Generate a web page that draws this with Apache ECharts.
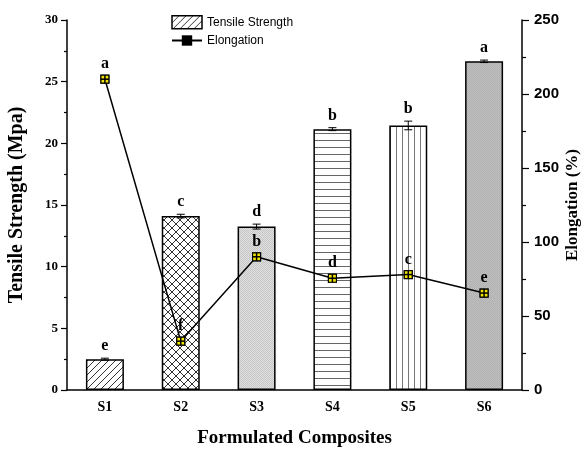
<!DOCTYPE html>
<html><head><meta charset="utf-8">
<script src="https://cdn.jsdelivr.net/npm/echarts@6/dist/echarts.min.js"></script>
<style>html,body{margin:0;padding:0;background:#fff}#c{width:586px;height:451px}</style>
</head><body><div id="c"></div>
<script>
const categories = ['S1', 'S2', 'S3', 'S4', 'S5', 'S6'];
const tensile = [2.5, 14.1, 13.25, 21.15, 21.45, 26.65];
const tensileErr = [0.08, 0.15, 0.2, 0.12, 0.35, 0.1];
const tensileLetters = ['e', 'c', 'd', 'b', 'b', 'a'];
const elongation = [210, 33, 90, 75.5, 78, 65.5];
const elongationErr = [1, 1, 1, 1, 1.5, 1];
const elongationLetters = ['a', 'f', 'b', 'd', 'c', 'e'];
const leftTicks = [0, 5, 10, 15, 20, 25, 30];
const rightTicks = [0, 50, 100, 150, 200, 250];

function tile(w, h, draw) {
  const c = document.createElement('canvas');
  c.width = w; c.height = h;
  const g = c.getContext('2d');
  draw(g, w, h);
  return { image: c, repeat: 'repeat' };
}
const patDiag = tile(7, 7, (g) => {
  g.fillStyle = '#fff'; g.fillRect(0, 0, 7, 7);
  g.strokeStyle = '#333'; g.lineWidth = 1;
  g.beginPath();
  g.moveTo(0, 7); g.lineTo(7, 0);
  g.moveTo(-1, 1); g.lineTo(1, -1);
  g.moveTo(6, 8); g.lineTo(8, 6);
  g.stroke();
});
const patCross = tile(8, 8, (g) => {
  g.fillStyle = '#fff'; g.fillRect(0, 0, 8, 8);
  g.strokeStyle = '#333'; g.lineWidth = 1;
  g.beginPath();
  g.moveTo(0, 8); g.lineTo(8, 0);
  g.moveTo(0, 0); g.lineTo(8, 8);
  g.moveTo(-1, 1); g.lineTo(1, -1);
  g.moveTo(7, 9); g.lineTo(9, 7);
  g.moveTo(-1, 7); g.lineTo(1, 9);
  g.moveTo(7, -1); g.lineTo(9, 1);
  g.stroke();
});
const patDots = tile(2, 2, (g) => {
  g.fillStyle = '#e0e0e0'; g.fillRect(0, 0, 2, 2);
  g.fillStyle = '#c6c6c6'; g.fillRect(0, 0, 1, 1); g.fillRect(1, 1, 1, 1);
});
const patHoriz = tile(4, 7, (g) => {
  g.fillStyle = '#fff'; g.fillRect(0, 0, 4, 7);
  g.fillStyle = '#666'; g.fillRect(0, 0, 4, 1);
});
const patVert = tile(6, 4, (g) => {
  g.fillStyle = '#fff'; g.fillRect(0, 0, 6, 4);
  g.fillStyle = '#777'; g.fillRect(0, 0, 1, 4);
});
const patGray = tile(2, 2, (g) => {
  g.fillStyle = '#c0c0c0'; g.fillRect(0, 0, 2, 2);
  g.fillStyle = '#b0b0b0'; g.fillRect(0, 0, 1, 1); g.fillRect(1, 1, 1, 1);
});
const barFills = [patDiag, patCross, patDots, patHoriz, patVert, patGray];

const serif = 'Liberation Serif';
const sans = 'Liberation Sans';

const chart = echarts.init(document.getElementById('c'));
chart.setOption({
  animation: false,
  backgroundColor: '#fff',
  grid: { left: 67, right: 64, top: 20, bottom: 61, containLabel: false, outerBoundsMode: 'none' },
  legend: {
    orient: 'vertical', left: 166, top: 10, itemWidth: 30, itemHeight: 13, itemGap: 5,
    textStyle: { fontFamily: sans, fontSize: 12, color: '#000' },
    data: [
      { name: 'Tensile Strength', icon: 'rect', itemStyle: { color: patDiag, borderColor: '#000', borderWidth: 1.5 } },
      { name: 'Elongation' }
    ]
  },
  xAxis: [{
    type: 'category', data: categories,
    name: 'Formulated Composites', nameLocation: 'middle', nameGap: 39,
    nameTextStyle: { fontFamily: serif, fontWeight: 'bold', fontSize: 19, color: '#000' },
    axisLine: { lineStyle: { color: '#000', width: 1.5 } },
    axisTick: { alignWithLabel: true, length: 6, lineStyle: { color: '#000', width: 1.2 } },
    axisLabel: { fontFamily: serif, fontWeight: 'bold', fontSize: 14, color: '#000', margin: 10 }
  }, {
    type: 'category', data: categories, position: 'bottom',
    axisLine: { show: false },
    axisTick: { length: 4, lineStyle: { color: '#000', width: 1.2 } },
    axisLabel: { show: false }
  }],
  yAxis: [{
    type: 'value', min: leftTicks[0], max: leftTicks[leftTicks.length - 1], interval: leftTicks[1] - leftTicks[0],
    name: 'Tensile Strength (Mpa)', nameLocation: 'middle', nameGap: 40,
    nameTextStyle: { fontFamily: serif, fontWeight: 'bold', fontSize: 20, color: '#000' },
    axisLine: { show: true, lineStyle: { color: '#000', width: 1.5 } },
    axisTick: { show: true, length: 6, lineStyle: { color: '#000', width: 1.2 } },
    minorTick: { show: true, splitNumber: 2, length: 3, lineStyle: { color: '#000', width: 1.2 } },
    splitLine: { show: false },
    axisLabel: { fontFamily: serif, fontWeight: 'bold', fontSize: 13, color: '#000', margin: 9 }
  }, {
    type: 'value', min: rightTicks[0], max: rightTicks[rightTicks.length - 1], interval: rightTicks[1] - rightTicks[0],
    name: 'Elongation (%)', nameLocation: 'middle', nameGap: 42, nameRotate: 90, nameMoveOverlap: false,
    nameTextStyle: { fontFamily: serif, fontWeight: 'bold', fontSize: 17, color: '#000' },
    axisLine: { show: true, lineStyle: { color: '#000', width: 1.5 } },
    axisTick: { show: true, length: 7, lineStyle: { color: '#000', width: 1.2 } },
    minorTick: { show: true, splitNumber: 2, length: 4, lineStyle: { color: '#000', width: 1.2 } },
    splitLine: { show: false },
    axisLabel: { fontFamily: sans, fontWeight: 'bold', fontSize: 15, color: '#000', margin: 12 }
  }],
  series: [{
    name: 'Tensile Strength', type: 'bar', yAxisIndex: 0, barWidth: 38, z: 2,
    itemStyle: { color: patDiag, borderColor: '#000', borderWidth: 1.5 },
    data: tensile.map((v, i) => ({ value: v, itemStyle: { color: barFills[i] } }))
  }, {
    type: 'custom', yAxisIndex: 0, z: 3,
    data: tensile.map((v, i) => [i, v, tensileErr[i]]),
    renderItem: (params, api) => {
      const i = api.value(0), v = api.value(1), e = api.value(2);
      const t = api.coord([i, v + e]), b = api.coord([i, v - e]);
      return { type: 'group', children: [
        { type: 'line', shape: { x1: t[0], y1: t[1], x2: b[0], y2: b[1] }, style: { stroke: '#000', lineWidth: 1 } },
        { type: 'line', shape: { x1: t[0] - 4, y1: t[1], x2: t[0] + 4, y2: t[1] }, style: { stroke: '#000', lineWidth: 1 } },
        { type: 'line', shape: { x1: b[0] - 4, y1: b[1], x2: b[0] + 4, y2: b[1] }, style: { stroke: '#000', lineWidth: 1 } },
        { type: 'text', x: t[0], y: t[1] - 4, style: { text: tensileLetters[params.dataIndex], fontFamily: serif, fontWeight: 'bold', fontSize: 16, fill: '#000', align: 'center', verticalAlign: 'bottom' } }
      ] };
    }
  }, {
    name: 'Elongation', type: 'line', yAxisIndex: 1, z: 4,
    symbol: 'rect', symbolSize: 9,
    lineStyle: { color: '#000', width: 1.5 },
    itemStyle: { color: '#000' },
    data: elongation
  }, {
    type: 'custom', yAxisIndex: 1, z: 5,
    data: elongation.map((v, i) => [i, v, elongationErr[i]]),
    renderItem: (params, api) => {
      const i = api.value(0), v = api.value(1);
      const p = api.coord([i, v]);
      const s = 4;
      return { type: 'group', children: [
        { type: 'rect', shape: { x: p[0] - s, y: p[1] - s, width: 2 * s, height: 2 * s }, style: { fill: '#f2e600', stroke: '#000', lineWidth: 1.2 } },
        { type: 'line', shape: { x1: p[0] - s, y1: p[1], x2: p[0] + s, y2: p[1] }, style: { stroke: '#000', lineWidth: 1.5 } },
        { type: 'line', shape: { x1: p[0], y1: p[1] - s, x2: p[0], y2: p[1] + s }, style: { stroke: '#000', lineWidth: 1.5 } },
        { type: 'text', x: p[0], y: p[1] - 7, style: { text: elongationLetters[params.dataIndex], fontFamily: serif, fontWeight: 'bold', fontSize: 16, fill: '#000', align: 'center', verticalAlign: 'bottom' } }
      ] };
    }
  }]
});
</script></body></html>
